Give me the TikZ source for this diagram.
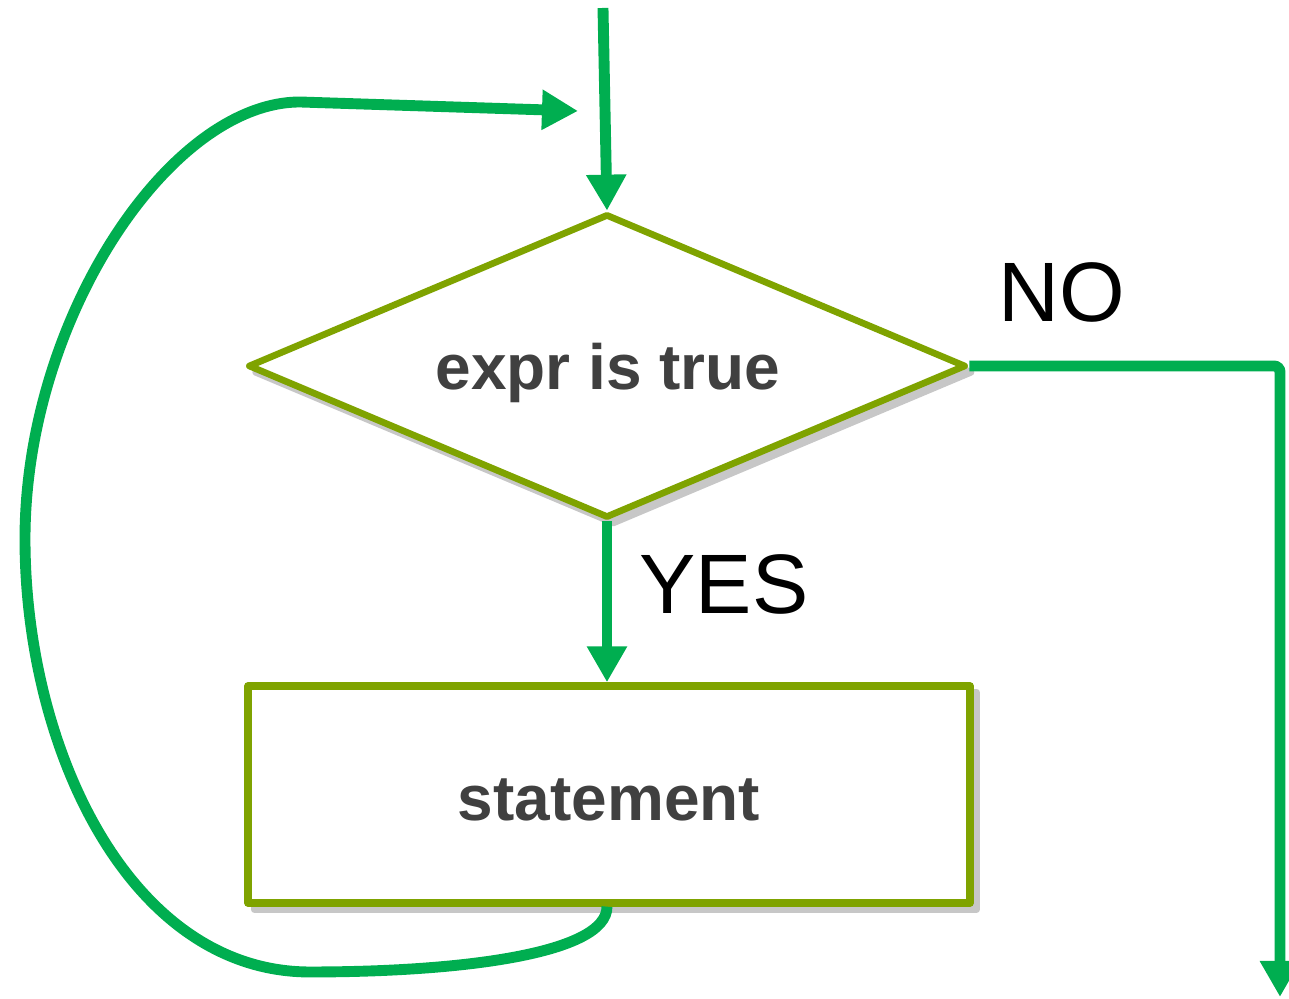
\documentclass[tikz,border=0pt]{standalone}
\usepackage{fontspec}
\setmainfont{Liberation Sans}
\usetikzlibrary{shapes.geometric, arrows.meta, shadows}

\definecolor{verde}{RGB}{0,174,80}
\definecolor{oliva}{RGB}{127,163,0}
\definecolor{gristexto}{RGB}{64,64,64}

\tikzset{
  decision/.style={diamond, draw=oliva, line width=1.9pt, fill=white,
    minimum width=7.18cm, minimum height=3.04cm, inner sep=0pt, line join=round,
    drop shadow={shadow xshift=1.8pt, shadow yshift=-1.8pt, fill=black!22,
      draw=black!22, line width=1.9pt, opacity=1}},
  caja/.style={rectangle, draw=oliva, line width=2.1pt, fill=white,
    minimum width=7.22cm, minimum height=2.17cm, inner sep=0pt, line join=round,
    drop shadow={shadow xshift=1.8pt, shadow yshift=-1.8pt, fill=black!22,
      draw=black!22, line width=2.1pt, opacity=1}},
  flecha/.style={draw=verde, line width=3.1pt, -{Triangle[length=0.36cm, width=0.38cm]}},
  texto/.style={text=gristexto, font=\bfseries\fontsize{18.2}{22}\selectfont},
  etiqueta/.style={font=\fontsize{24}{28}\selectfont}
}

\begin{document}
\begin{tikzpicture}
  \useasboundingbox (0,0) rectangle (12.89,9.99);

  % Condicion y sentencia
  \node[decision] (cond) at (6.07,6.33) {};
  \node[texto] (expr) at (6.08,6.26) {expr is true};
  \node[caja] (stmt) at (6.09,2.045) {};
  \node[texto] (stmttxt) at (6.09,1.99) {statement};

  % Etiquetas
  \node[etiqueta] (no) at (10.62,7.07) {NO};
  \node[etiqueta] (si) at (7.24,4.15) {YES};

  % Puntos libres
  \coordinate (inicio) at (6.03,9.91);
  \coordinate (vuelta) at (5.78,8.88);
  \coordinate (esquina) at (12.80,6.33);
  \coordinate (fin) at (12.80,0.02);

  % Flechas
  \draw[flecha] (inicio) -- (cond.north);
  \draw[flecha] (cond.south) -- (cond.south |- stmt.north);
  \draw[flecha, rounded corners=0.06cm] (cond.east) -- (esquina) -- (fin);
  \draw[flecha] (cond.south |- stmt.south) .. controls (6.07,0.45) and (4.6,0.27) .. (3.1,0.27)
    .. controls (1.3,0.27) and (0.25,2.5) .. (0.25,4.6)
    .. controls (0.25,6.8) and (1.7,8.97) .. (3.0,8.97) -- (vuelta);
\end{tikzpicture}
\end{document}
